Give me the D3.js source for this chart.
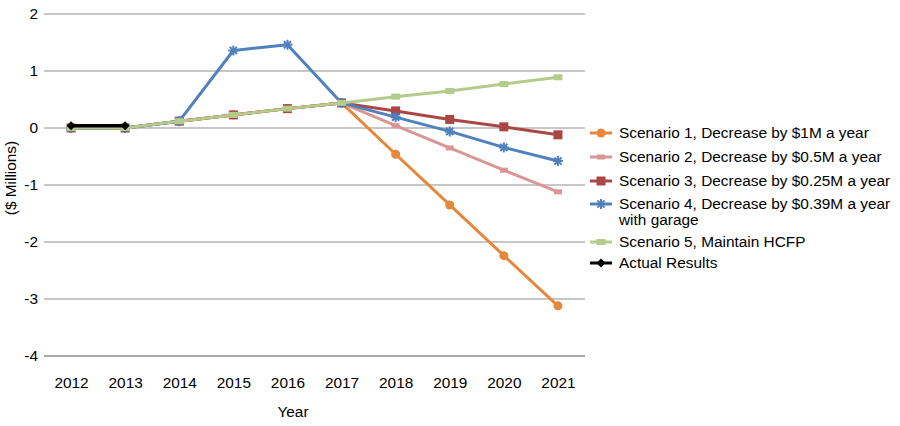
<!DOCTYPE html>
<html>
<head>
<meta charset="utf-8">
<script src="https://cdn.jsdelivr.net/npm/d3@7"></script>
<style>
  body { margin: 0; background: #fff; }
  svg text { font-family: "Liberation Sans", Arial, sans-serif; fill: #000; }
</style>
</head>
<body>
<svg id="chart" width="900" height="426"></svg>
<script>
// --- DATOS ---
const years = [2012, 2013, 2014, 2015, 2016, 2017, 2018, 2019, 2020, 2021];
const yTicks = [2, 1, 0, -1, -2, -3, -4];

const scenario1 = [0, 0, 0.12, 0.23, 0.34, 0.44, -0.46, -1.35, -2.24, -3.12];
const scenario2 = [0, 0, 0.12, 0.23, 0.34, 0.44, 0.04, -0.35, -0.74, -1.12];
const scenario3 = [0, 0, 0.12, 0.23, 0.34, 0.44, 0.30, 0.15, 0.02, -0.12];
const scenario4 = [0, 0, 0.12, 1.36, 1.46, 0.44, 0.19, -0.06, -0.34, -0.58];
const scenario5 = [0, 0, 0.12, 0.23, 0.34, 0.44, 0.55, 0.65, 0.77, 0.89];
const actual    = [0.04, 0.04];

const seriesNames = [
  ["Scenario 1, Decrease by $1M a year"],
  ["Scenario 2, Decrease by $0.5M a year"],
  ["Scenario 3, Decrease by $0.25M a year"],
  ["Scenario 4, Decrease by $0.39M a year", "with garage"],
  ["Scenario 5, Maintain HCFP"],
  ["Actual Results"]
];

const series = [
  { values: scenario1, color: "#E5883C", marker: "circle" },
  { values: scenario2, color: "#D99694", marker: "dash" },
  { values: scenario3, color: "#AA4643", marker: "square" },
  { values: scenario4, color: "#4F81BD", marker: "star" },
  { values: scenario5, color: "#B3CB8B", marker: "bar" },
  { values: actual,    color: "#000000", marker: "diamond" }
];

const FS = "15.4px";

// --- ESCALAS ---
const svg = d3.select("#chart");
const x = d3.scalePoint().domain(years).range([44, 585]).padding(0.5);
const y = d3.scaleLinear().domain([-4, 2]).range([356, 14]);

// rejilla
svg.append("g")
  .selectAll("line")
  .data(yTicks)
  .join("line")
  .attr("x1", 44).attr("x2", 585)
  .attr("y1", d => y(d)).attr("y2", d => y(d))
  .attr("stroke", d => d === -4 ? "#8c8c8c" : "#b5b5b5")
  .attr("stroke-width", 1.5);

// ejes
const yAxis = svg.append("g")
  .attr("transform", "translate(44,0)")
  .call(d3.axisLeft(y).tickValues(yTicks).tickSize(0).tickPadding(6)
    .tickFormat(d => String(d)));
yAxis.select(".domain").remove();
yAxis.selectAll("text").style("font-size", FS);

const xAxis = svg.append("g")
  .attr("transform", `translate(0,${y(-4)})`)
  .call(d3.axisBottom(x).tickSize(0).tickPadding(21).tickFormat(d => String(d)));
xAxis.select(".domain").remove();
xAxis.selectAll("text").style("font-size", FS);

svg.append("text")
  .attr("x", 293).attr("y", 417)
  .attr("text-anchor", "middle")
  .style("font-size", FS)
  .text("Year");

svg.append("text")
  .attr("transform", "translate(16,178) rotate(-90)")
  .attr("text-anchor", "middle")
  .style("font-size", FS)
  .text("($ Millions)");

// --- MARCADORES ---
function drawMarker(g, type, color, cx, cy) {
  if (type === "circle") {
    g.append("circle").attr("cx", cx).attr("cy", cy).attr("r", 4.5).attr("fill", color);
  } else if (type === "dash") {
    g.append("rect").attr("x", cx - 4).attr("y", cy - 2.5).attr("width", 8).attr("height", 5).attr("fill", color);
  } else if (type === "square") {
    g.append("rect").attr("x", cx - 4.5).attr("y", cy - 4.5).attr("width", 9).attr("height", 9).attr("fill", color);
  } else if (type === "bar") {
    g.append("rect").attr("x", cx - 4.5).attr("y", cy - 3).attr("width", 9).attr("height", 6).attr("fill", color);
  } else if (type === "diamond") {
    g.append("path").attr("d", `M${cx},${cy - 4.5}L${cx + 4.5},${cy}L${cx},${cy + 4.5}L${cx - 4.5},${cy}Z`).attr("fill", color);
  } else if (type === "star") {
    const r = 5;
    const d = r * 0.72;
    g.append("path")
      .attr("d", `M${cx - r},${cy}L${cx + r},${cy}M${cx},${cy - r}L${cx},${cy + r}` +
                 `M${cx - d},${cy - d}L${cx + d},${cy + d}M${cx - d},${cy + d}L${cx + d},${cy - d}`)
      .attr("stroke", color).attr("stroke-width", 2).attr("fill", "none");
  }
}

const line = d3.line().x((d, i) => x(years[i])).y(d => y(d));

series.forEach(s => {
  const g = svg.append("g");
  g.append("path")
    .datum(s.values)
    .attr("d", line)
    .attr("fill", "none")
    .attr("stroke", s.color)
    .attr("stroke-width", s.marker === "diamond" ? 3.5 : 3)
    .attr("stroke-linejoin", "round");
  s.values.forEach((v, i) => drawMarker(g, s.marker, s.color, x(years[i]), y(v)));
});

// --- LEYENDA ---
const legendY = [133, 157, 181, 204, 242, 263];
const legend = svg.append("g");
series.forEach((s, i) => {
  const ly = legendY[i];
  legend.append("line")
    .attr("x1", 590).attr("x2", 612).attr("y1", ly).attr("y2", ly)
    .attr("stroke", s.color).attr("stroke-width", 3);
  drawMarker(legend, s.marker, s.color, 601, ly);
  seriesNames[i].forEach((t, j) => {
    legend.append("text")
      .attr("x", 619).attr("y", ly + 5 + j * 16)
      .style("font-size", FS)
      .text(t);
  });
});
</script>
</body>
</html>
